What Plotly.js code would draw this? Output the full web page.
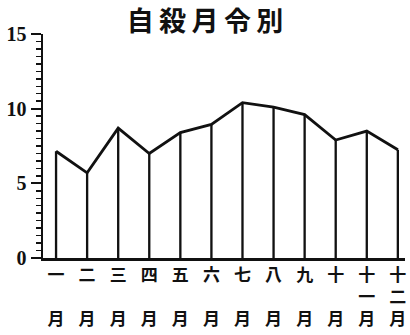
<!DOCTYPE html>
<html>
<head>
<meta charset="utf-8">
<script src="https://cdn.plot.ly/plotly-3.0.1.min.js"></script>
<style>html,body{margin:0;padding:0;background:#fff;}#chart{width:410px;height:335px;}</style>
</head>
<body>
<div id="chart"></div>
<script>
const months = [1,2,3,4,5,6,7,8,9,10,11,12];
const monthLabels = ["一<br> <br>月","二<br> <br>月","三<br> <br>月","四<br> <br>月","五<br> <br>月","六<br> <br>月","七<br> <br>月","八<br> <br>月","九<br> <br>月","十<br> <br>月","十<br>一<br>月","十<br>二<br>月"];
const suicides = [7.15,5.7,8.7,7.0,8.4,8.95,10.4,10.1,9.6,7.9,8.5,7.25];
const yTicks = [0,5,10,15];

const ink = "#111";
const traces = [
  {type:"bar", x:months, y:suicides, width:0.075, marker:{color:ink, line:{width:0}}, hoverinfo:"skip"},
  {type:"scatter", mode:"lines", x:months, y:suicides, line:{color:ink, width:2.8}}
];
const layout = {
  width:410, height:335,
  margin:{l:43, r:5, t:34, b:77},
  paper_bgcolor:"#fff", plot_bgcolor:"#fff",
  showlegend:false,
  title:{text:"<b>自\u2009殺\u2009月\u2009令\u2009別</b>", font:{family:"Noto Sans CJK JP", size:27, color:ink},
         x:0.5, xanchor:"center", y:1-22/335, yanchor:"middle", yref:"container"},
  xaxis:{range:[0.58,12.23], tickvals:months, ticktext:monthLabels.map(s=>"<b>"+s+"</b>"), ticks:"", showgrid:false, zeroline:false,
         showline:true, linecolor:ink, linewidth:2.5,
         tickfont:{family:"Noto Sans CJK JP", size:17, color:ink}},
  yaxis:{range:[0,15], tickvals:yTicks, ticktext:yTicks.map(v=>"<b>"+v+"</b>"), ticks:"outside", ticklen:10, tickwidth:2, tickcolor:ink,
         minor:{dtick:0.5, ticks:"outside", ticklen:5, tickwidth:1.5, tickcolor:ink, showgrid:false},
         showgrid:false, zeroline:false, showline:true, linecolor:ink, linewidth:2.5,
         tickfont:{family:"Liberation Serif", size:20, color:ink}}
};
Plotly.newPlot("chart", traces, layout, {staticPlot:true, displayModeBar:false});
</script>
</body>
</html>
